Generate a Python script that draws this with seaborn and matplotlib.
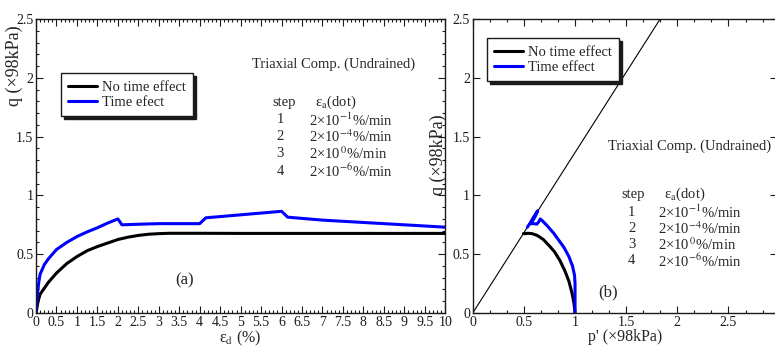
import matplotlib
matplotlib.use("Agg")
import matplotlib.pyplot as plt
import seaborn as sns
from matplotlib.ticker import MultipleLocator, AutoMinorLocator, FuncFormatter

# ---- data ----
# (a) stress-strain
strain_no_time = [0, 0.05, 0.1, 0.2, 0.3, 0.5, 0.75, 1.0, 1.25, 1.5, 1.75, 2.0, 2.25,
                  2.5, 2.75, 3.0, 3.25, 3.5, 4, 5, 6, 7, 8, 9, 10]
q_no_time = [0, 0.1, 0.16, 0.21, 0.26, 0.34, 0.42, 0.48, 0.53, 0.565, 0.595, 0.625, 0.645,
             0.66, 0.67, 0.675, 0.678, 0.678, 0.678, 0.677, 0.677, 0.677, 0.677, 0.677, 0.677]

strain_time = [0, 0.03, 0.07, 0.1, 0.2, 0.3, 0.5, 0.75, 1.0, 1.25, 1.5, 1.75, 2.0, 2.1,
               2.5, 3.0, 3.5, 4.0, 4.15, 4.5, 5.0, 5.5, 6.0, 6.15, 7.0, 8.0, 9.0, 10.0]
q_time = [0, 0.15, 0.27, 0.33, 0.41, 0.46, 0.54, 0.6, 0.65, 0.69, 0.725, 0.765, 0.80, 0.75,
          0.755, 0.76, 0.76, 0.76, 0.81, 0.82, 0.835, 0.85, 0.865, 0.815, 0.79, 0.77, 0.75, 0.73]

# (b) effective stress paths
p_no_time = [1.0, 0.99, 0.97, 0.94, 0.9, 0.85, 0.8, 0.75, 0.69, 0.63, 0.58, 0.54, 0.51, 0.495]
qp_no_time = [0, 0.08, 0.17, 0.27, 0.36, 0.45, 0.52, 0.57, 0.625, 0.66, 0.675, 0.678, 0.675, 0.675]

p_time = [1.0, 1.0, 1.0, 0.995, 0.975, 0.94, 0.89, 0.84, 0.79, 0.73, 0.68, 0.66, 0.645,
          0.625, 0.60, 0.575, 0.56, 0.59, 0.62, 0.635, 0.61, 0.59, 0.57, 0.545, 0.535]
qp_time = [0, 0.1, 0.25, 0.32, 0.40, 0.48, 0.56, 0.62, 0.68, 0.74, 0.785, 0.80, 0.775,
           0.755, 0.76, 0.76, 0.762, 0.81, 0.85, 0.87, 0.82, 0.79, 0.77, 0.745, 0.73]

# critical state line
csl_p = [0, 2.0]
csl_q = [0, 2.73]

steps = ["1", "2", "3", "4"]
rates = [r"2×10$^{-1}$%/min", r"2×10$^{-4}$%/min", r"2×10$^{\,0}$%/min", r"2×10$^{-6}$%/min"]

sns.set_theme(style="ticks")
plt.rcParams["font.family"] = ["Liberation Serif", "DejaVu Serif"]
plt.rcParams["mathtext.fontset"] = "stix"

fig = plt.figure(figsize=(7.75, 3.47), dpi=100)
ax1 = fig.add_axes([0.0465, 0.098, 0.528, 0.847])
ax2 = fig.add_axes([0.610, 0.098, 0.392, 0.847])

fmt = FuncFormatter(lambda v, pos: "%g" % v)


def style_axes(ax, xminor, yminor):
    ax.tick_params(which="both", direction="in", top=True, right=True,
                   labelsize=10, pad=2, width=0.8, color="k", labelcolor="k")
    ax.tick_params(which="major", length=5)
    ax.tick_params(which="minor", length=2.5)
    ax.xaxis.set_major_locator(MultipleLocator(0.5))
    ax.yaxis.set_major_locator(MultipleLocator(0.5))
    ax.xaxis.set_minor_locator(AutoMinorLocator(xminor))
    if yminor:
        ax.yaxis.set_minor_locator(AutoMinorLocator(yminor))
    ax.xaxis.set_major_formatter(fmt)
    ax.yaxis.set_major_formatter(fmt)
    for s in ax.spines.values():
        s.set_color("k")
        s.set_linewidth(1.0)


def add_legend(ax, anchor):
    leg = ax.legend(loc="upper left", bbox_to_anchor=anchor, borderaxespad=0,
                    fancybox=False, edgecolor="k", framealpha=1, fontsize=10.5,
                    handlelength=2.0, handletextpad=0.3, labelspacing=0.15,
                    borderpad=0.5, shadow={"color": "k", "alpha": 1})
    leg.get_frame().set_linewidth(1.0)


def add_step_table(ax, x_step, x_head, x_rate, x_num, y_head, y_first, dy):
    ax.text(x_step, y_head, "step", transform=ax.transAxes, ha="left", va="center", fontsize=10.5)
    ax.text(x_head, y_head, r"ε$_\mathrm{a}$(dot)", transform=ax.transAxes,
            ha="left", va="center", fontsize=10.5)
    for i, (s, r) in enumerate(zip(steps, rates)):
        y = y_first - i * dy
        ax.text(x_num, y, s, transform=ax.transAxes, ha="center", va="center", fontsize=10.5)
        ax.text(x_rate, y, r, transform=ax.transAxes, ha="left", va="center", fontsize=10.5)


# ---- (a) ----
sns.lineplot(x=strain_no_time, y=q_no_time, ax=ax1, color="black", lw=2.2,
             sort=False, estimator=None, label="No time effect")
sns.lineplot(x=strain_time, y=q_time, ax=ax1, color="#0000ff", lw=2.2,
             sort=False, estimator=None, label="Time efect")
ax1.set_xlim(0, 10)
ax1.set_ylim(0, 2.5)
style_axes(ax1, 5, 5)
ax1.set_xlabel(r"ε$_\mathrm{d}$ (%)", fontsize=11.5, labelpad=0)
ax1.set_ylabel("q (×98kPa)", fontsize=13)
ax1.yaxis.set_label_coords(-0.032, 0.84)
add_legend(ax1, (0.061, 0.816))

ax1.text(0.528, 0.847, "Triaxial Comp. (Undrained)", transform=ax1.transAxes,
         ha="left", va="center", fontsize=10.5)
add_step_table(ax1, 0.578, 0.682, 0.667, 0.597, 0.716, 0.657, 0.058)
ax1.text(0.364, 0.112, "(a)", transform=ax1.transAxes, ha="center", va="center", fontsize=12)

# ---- (b) ----
sns.lineplot(x=csl_p, y=csl_q, ax=ax2, color="black", lw=0.8, sort=False, estimator=None)
sns.lineplot(x=p_no_time, y=qp_no_time, ax=ax2, color="black", lw=2.2,
             sort=False, estimator=None, label="No time effect")
sns.lineplot(x=p_time, y=qp_time, ax=ax2, color="#0000ff", lw=2.2,
             sort=False, estimator=None, label="Time effect")
ax2.set_xlim(0, 2.97)
ax2.set_ylim(0, 2.5)
style_axes(ax2, 3, 0)
ax2.set_xlabel("p' (×98kPa)", fontsize=11.5, labelpad=0)
ax2.set_ylabel("q (×98kPa)", fontsize=13)
ax2.yaxis.set_label_coords(-0.086, 0.537)
add_legend(ax2, (0.046, 0.935))

ax2.text(0.444, 0.568, "Triaxial Comp. (Undrained)", transform=ax2.transAxes,
         ha="left", va="center", fontsize=10.5)
add_step_table(ax2, 0.49, 0.629, 0.609, 0.523, 0.404, 0.342, 0.055)
ax2.text(0.447, 0.071, "(b)", transform=ax2.transAxes, ha="center", va="center", fontsize=12)

fig.savefig("out.png", dpi=100)
